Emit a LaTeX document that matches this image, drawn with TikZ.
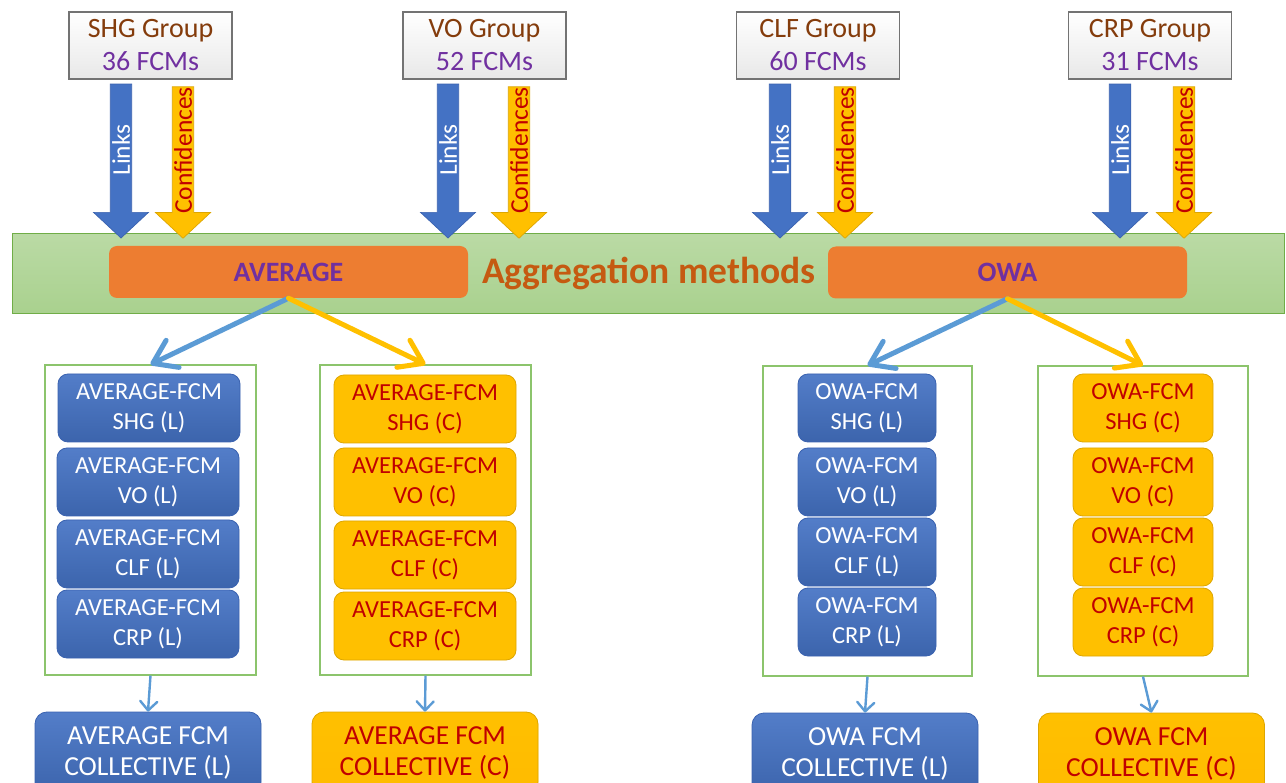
\documentclass[tikz,border=0pt]{standalone}
\usepackage{fontspec}
\setmainfont{Carlito}
\usetikzlibrary{shapes.arrows,arrows.meta,calc}

\definecolor{linkblue}{HTML}{4472C4}
\definecolor{linkedge}{HTML}{3A62B0}
\definecolor{confyellow}{HTML}{FFC000}
\definecolor{confedge}{HTML}{DDA600}
\definecolor{confred}{HTML}{C00000}
\definecolor{barfill}{HTML}{A9D18E}
\definecolor{baredge}{HTML}{70AD47}
\definecolor{methorange}{HTML}{ED7D31}
\definecolor{methtext}{HTML}{C55A11}
\definecolor{purpletext}{HTML}{7030A0}
\definecolor{browntext}{HTML}{843C0C}
\definecolor{flowblue}{HTML}{5B9BD5}
\definecolor{framegreen}{HTML}{8CC46C}

\tikzset{
  groupbox/.style={draw=black!55, line width=1.2pt, top color=white, bottom color=black!9,
    minimum width=163, minimum height=67, inner sep=0, align=center, text=browntext,
    font=\fontsize{28}{33}\selectfont},
  blockarrow/.style={single arrow, shape border rotate=180, rotate=90, line width=0.7pt,
    minimum width=55, single arrow head extend=14.5, single arrow tip angle=94,
    inner sep=0, font=\fontsize{25.5}{25.5}\selectfont},
  linkarrow/.style={blockarrow, fill=linkblue, draw=linkedge, text=white},
  confarrow/.style={blockarrow, fill=confyellow, draw=confedge, text=confred},
  methodbox/.style={fill=methorange, rounded corners=8, minimum width=359, minimum height=52,
    inner sep=0, text=purpletext, font=\bfseries\fontsize{28}{28}\selectfont},
  frame/.style={draw=framegreen, line width=1.1pt, fill=white, inner sep=0},
  fcmL/.style={draw=linkedge, line width=0.8pt, top color=linkblue!92!white, bottom color=linkblue!88!black,
    rounded corners=10, minimum height=68, inner sep=0, align=center, text=white,
    font=\fontsize{24.5}{30}\selectfont},
  fcmC/.style={draw=confedge, line width=0.8pt, fill=confyellow,
    rounded corners=10, minimum height=68, inner sep=0, align=center, text=confred,
    font=\fontsize{24.5}{30}\selectfont},
  collL/.style={fcmL, minimum width=226, minimum height=82, rounded corners=12,
    font=\fontsize{27.5}{31}\selectfont},
  collC/.style={fcmC, top color=confyellow, bottom color=confyellow!92!orange,
    minimum width=226, minimum height=82, rounded corners=12,
    font=\fontsize{27.5}{31}\selectfont},
  bigflow/.style={line width=5pt, line cap=round,
    -{Straight Barb[length=22pt,width=30pt,line cap=round,round]}},
  smallflow/.style={draw=flowblue, line width=2.4pt,
    -{Straight Barb[length=9pt,width=17pt,line cap=round,round]}}
}

\begin{document}
\begin{tikzpicture}[x=1pt,y=-1pt]
\clip (0,0) rectangle (1286,783);
\fill[white] (0,0) rectangle (1286,783);

% aggregation band
\node[draw=baredge, line width=1pt, top color=barfill!80!white, bottom color=barfill,
      minimum width=1272, minimum height=80, inner sep=0] (bar) at (648,274) {};
\node[text=methtext, font=\bfseries\fontsize{37.5}{37.5}\selectfont] (aggtext) at (649,273) {Aggregation methods};
\node[methodbox] (avg) at (288.5,272) {AVERAGE};
\node[methodbox] (owa) at (1007.5,272.5) {OWA};

% expert groups
\node[groupbox] (shg) at (150.5,45.5) {SHG Group\\{\color{purpletext}36 FCMs}};
\node[groupbox] (vo)  at (484.5,45.5) {VO Group\\{\color{purpletext}52 FCMs}};
\node[groupbox] (clf) at (818,45.5)   {CLF Group\\{\color{purpletext}60 FCMs}};
\node[groupbox] (crp) at (1150,45.5)  {CRP Group\\{\color{purpletext}31 FCMs}};

% links and confidences fed into the band
\foreach \g/\lx/\cx in {shg/121/183, vo/448/519, clf/780/845, crp/1120/1184}{
  \node[linkarrow, minimum height=154] (\g links) at (\lx,156) {\hspace{12pt}Links};
  \node[confarrow, minimum height=151] (\g conf) at (\cx,157.5) {\hspace{14pt}Confidences};
}

% frames holding the per-group maps
\node[frame, minimum width=211, minimum height=310] (avgLbox) at (150.5,520) {};
\node[frame, minimum width=211, minimum height=310] (avgCbox) at (425.5,520) {};
\node[frame, minimum width=209, minimum height=310] (owaLbox) at (867.5,521) {};
\node[frame, minimum width=210, minimum height=310] (owaCbox) at (1143,521) {};

% average-based maps
\node[fcmL, minimum width=182] (avgLshg) at (149,408) {AVERAGE-FCM\\SHG (L)};
\node[fcmL, minimum width=182] (avgLvo)  at (148,482) {AVERAGE-FCM\\VO (L)};
\node[fcmL, minimum width=182] (avgLclf) at (148,554) {AVERAGE-FCM\\CLF (L)};
\node[fcmL, minimum width=182] (avgLcrp) at (148,624) {AVERAGE-FCM\\CRP (L)};
\node[fcmC, minimum width=182] (avgCshg) at (425,409) {AVERAGE-FCM\\SHG (C)};
\node[fcmC, minimum width=182] (avgCvo)  at (425,482) {AVERAGE-FCM\\VO (C)};
\node[fcmC, minimum width=182] (avgCclf) at (425,555) {AVERAGE-FCM\\CLF (C)};
\node[fcmC, minimum width=182] (avgCcrp) at (425,626) {AVERAGE-FCM\\CRP (C)};

% OWA-based maps
\node[fcmL, minimum width=138] (owaLshg) at (867,408) {OWA-FCM\\SHG (L)};
\node[fcmL, minimum width=138] (owaLvo)  at (867,482) {OWA-FCM\\VO (L)};
\node[fcmL, minimum width=138] (owaLclf) at (867,552) {OWA-FCM\\CLF (L)};
\node[fcmL, minimum width=138] (owaLcrp) at (867,622) {OWA-FCM\\CRP (L)};
\node[fcmC, minimum width=140] (owaCshg) at (1143,408) {OWA-FCM\\SHG (C)};
\node[fcmC, minimum width=140] (owaCvo)  at (1143,482) {OWA-FCM\\VO (C)};
\node[fcmC, minimum width=140] (owaCclf) at (1143,552) {OWA-FCM\\CLF (C)};
\node[fcmC, minimum width=140] (owaCcrp) at (1143,622) {OWA-FCM\\CRP (C)};

% collective maps
\node[collL] (avgLcol) at (148,753)    {AVERAGE FCM\\COLLECTIVE (L)};
\node[collC] (avgCcol) at (425,753)    {AVERAGE FCM\\COLLECTIVE (C)};
\node[collL] (owaLcol) at (865,754)    {OWA FCM\\COLLECTIVE (L)};
\node[collC] (owaCcol) at (1151.5,754) {OWA FCM\\COLLECTIVE (C)};

% method outputs
\draw[bigflow, flowblue]   (avg.south) -- (avgLbox.north);
\draw[bigflow, confyellow] (avg.south) -- (avgCbox.north);
\draw[bigflow, flowblue]   (owa.south) -- (owaLbox.north);
\draw[bigflow, confyellow] (owa.south) -- (owaCbox.north);

% collectives
\draw[smallflow] (avgLbox.south) -- (avgLcol.north);
\draw[smallflow] (avgCbox.south) -- (avgCcol.north);
\draw[smallflow] (owaLbox.south) -- (owaLcol.north);
\draw[smallflow] (owaCbox.south) -- (owaCcol.north);
\end{tikzpicture}
\end{document}
